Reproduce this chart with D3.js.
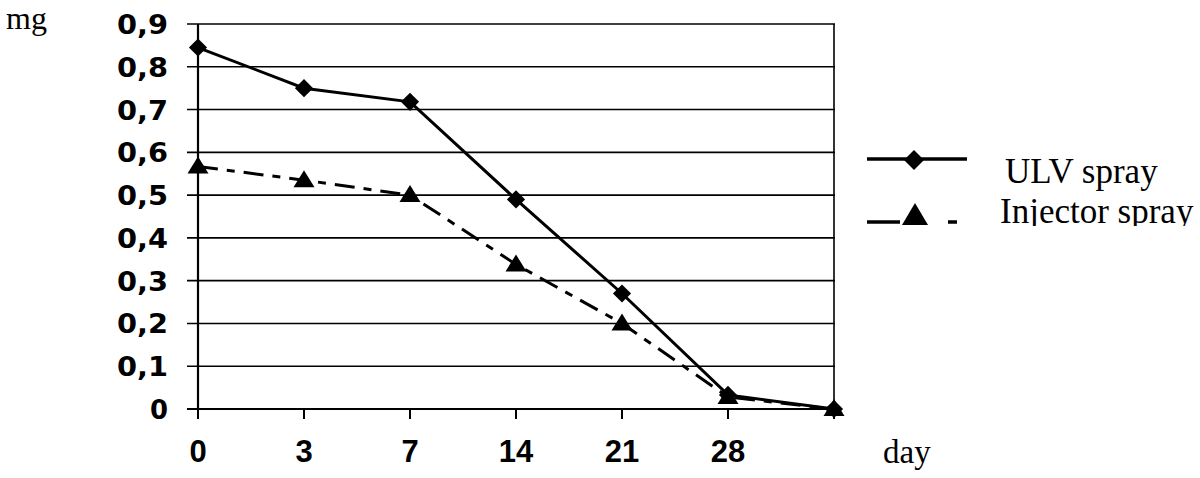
<!DOCTYPE html>
<html>
<head>
<meta charset="utf-8">
<script src="https://cdn.jsdelivr.net/npm/d3@7"></script>
<style>
  html, body { margin: 0; padding: 0; background: #fff; }
  svg { display: block; }
</style>
</head>
<body>
<svg id="chart" width="1200" height="478"></svg>
<script>
const categories = ["0", "3", "7", "14", "21", "28", ""];
const ulvSpray = [0.845, 0.75, 0.718, 0.49, 0.27, 0.033, 0];
const injectorSpray = [0.567, 0.535, 0.5, 0.338, 0.2, 0.028, 0];
const yTicks = [0, 0.1, 0.2, 0.3, 0.4, 0.5, 0.6, 0.7, 0.8, 0.9];
const yTickLabels = ["0", "0,1", "0,2", "0,3", "0,4", "0,5", "0,6", "0,7", "0,8", "0,9"];
const seriesNames = ["ULV spray", "Injector spray"];

const svg = d3.select("#chart");
const pLeft = 198, pRight = 834, pTop = 24, pBottom = 409;

const x = d3.scalePoint().domain(categories.map((c, i) => i)).range([pLeft, pRight]).padding(0);
const y = d3.scaleLinear().domain([0, 0.9]).range([pBottom, pTop]);

// gridlines with left tick extension
svg.append("g").selectAll("line").data(yTicks).join("line")
  .attr("x1", pLeft - 11).attr("x2", pRight + 1)
  .attr("y1", d => y(d)).attr("y2", d => y(d))
  .attr("stroke", "#000").attr("stroke-width", d => d === 0 ? 2.2 : 1.6);

// y axis line & right border
svg.append("line").attr("x1", pLeft).attr("x2", pLeft).attr("y1", pTop).attr("y2", pBottom + 1)
  .attr("stroke", "#000").attr("stroke-width", 2.2);
svg.append("line").attr("x1", pRight).attr("x2", pRight).attr("y1", pTop).attr("y2", pBottom)
  .attr("stroke", "#000").attr("stroke-width", 1.6);

// x axis ticks
svg.append("g").selectAll("line").data(categories.map((c, i) => i)).join("line")
  .attr("x1", d => x(d)).attr("x2", d => x(d))
  .attr("y1", pBottom).attr("y2", pBottom + 10)
  .attr("stroke", "#000").attr("stroke-width", 2);

// y tick labels
svg.append("g").selectAll("text").data(yTicks).join("text")
  .attr("x", 168).attr("y", d => y(d) + 10)
  .attr("text-anchor", "end")
  .attr("font-family", "DejaVu Sans, Verdana, sans-serif")
  .attr("font-weight", "bold").attr("font-size", 27)
  .attr("textLength", (d, i) => yTickLabels[i].length === 1 ? 18 : 51)
  .attr("lengthAdjust", "spacingAndGlyphs")
  .text((d, i) => yTickLabels[i]);

// x tick labels
svg.append("g").selectAll("text").data(categories.map((c, i) => i)).join("text")
  .attr("x", d => x(d)).attr("y", 462)
  .attr("text-anchor", "middle")
  .attr("font-family", "Liberation Sans, Arial, sans-serif")
  .attr("font-weight", "bold").attr("font-size", 31)
  .text(d => categories[d]);

// axis titles
svg.append("text").attr("x", 6).attr("y", 29)
  .attr("font-family", "Liberation Serif, Times New Roman, serif").attr("font-size", 32).text("mg");
svg.append("text").attr("x", 883).attr("y", 463)
  .attr("font-family", "Liberation Serif, Times New Roman, serif").attr("font-size", 33).text("day");

// lines
const line = d3.line().x((d, i) => x(i)).y(d => y(d));
svg.append("path").attr("d", line(injectorSpray)).attr("fill", "none")
  .attr("stroke", "#000").attr("stroke-width", 3).attr("stroke-dasharray", "20,9,8,9");
svg.append("path").attr("d", line(ulvSpray)).attr("fill", "none")
  .attr("stroke", "#000").attr("stroke-width", 3);

const diamond = d3.symbol().type(d3.symbolSquare).size(165)();
const tri = "M0,-10L10.5,7L-10.5,7Z";

svg.append("g").selectAll("path").data(ulvSpray).join("path")
  .attr("d", diamond)
  .attr("transform", (d, i) => `translate(${x(i)},${y(d)}) rotate(45)`)
  .attr("fill", "#000");
svg.append("g").selectAll("path").data(injectorSpray).join("path")
  .attr("d", tri)
  .attr("transform", (d, i) => `translate(${x(i)},${y(d)})`)
  .attr("fill", "#000");

// legend (clipped at bottom like the reference)
svg.append("clipPath").attr("id", "legclip").append("rect")
  .attr("x", 840).attr("y", 120).attr("width", 360).attr("height", 106);
const leg = svg.append("g").attr("clip-path", "url(#legclip)");
leg.append("line").attr("x1", 867).attr("x2", 967).attr("y1", 159).attr("y2", 159)
  .attr("stroke", "#000").attr("stroke-width", 3.5);
leg.append("path").attr("d", d3.symbol().type(d3.symbolSquare).size(200)())
  .attr("transform", "translate(914,160) rotate(45)").attr("fill", "#000");
leg.append("line").attr("x1", 867).attr("x2", 900).attr("y1", 222).attr("y2", 222)
  .attr("stroke", "#000").attr("stroke-width", 3.5);
leg.append("line").attr("x1", 948).attr("x2", 957).attr("y1", 222).attr("y2", 222)
  .attr("stroke", "#000").attr("stroke-width", 3.5);
leg.append("path").attr("d", "M0,-13L13,9L-13,9Z")
  .attr("transform", "translate(915,216)").attr("fill", "#000");
leg.append("text").attr("x", 1005).attr("y", 183)
  .attr("font-family", "Liberation Serif, Times New Roman, serif").attr("font-size", 35)
  .text(seriesNames[0]);
leg.append("text").attr("x", 1000).attr("y", 223)
  .attr("font-family", "Liberation Serif, Times New Roman, serif").attr("font-size", 35)
  .text(seriesNames[1]);
</script>
</body>
</html>
